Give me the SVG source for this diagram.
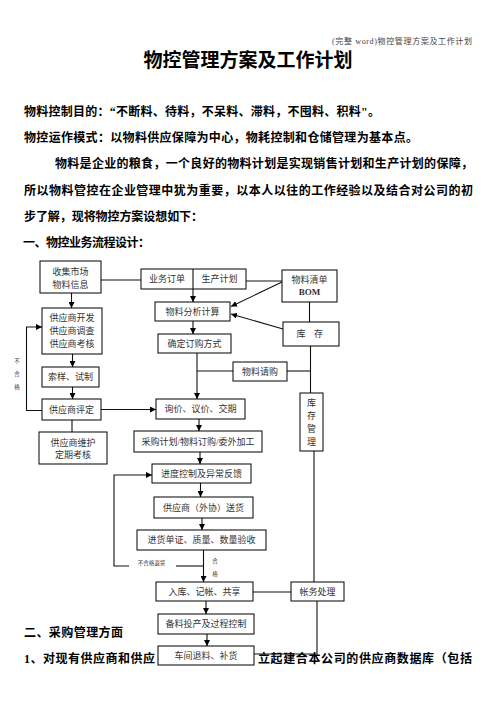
<svg xmlns="http://www.w3.org/2000/svg" width="496" height="702" viewBox="0 0 496 702">
<style>
.hd{font-family:"Liberation Serif","Noto Sans CJK SC",serif;font-size:8px;fill:#444}
.tt{font-family:"Liberation Serif","Noto Sans CJK SC",serif;font-size:19px;font-weight:bold;fill:#000}
.bd{font-family:"Liberation Serif","Noto Sans CJK SC",serif;font-size:12px;font-weight:bold;fill:#000}
.bx{fill:#fff;stroke:#000;stroke-width:1}
.nt{font-family:"Liberation Serif","Noto Sans CJK SC",serif;font-size:9px;fill:#333;text-anchor:middle;dominant-baseline:central}
.sm{font-family:"Liberation Serif","Noto Sans CJK SC",serif;font-size:5.5px;fill:#333;text-anchor:middle;dominant-baseline:central}
.ln{fill:none;stroke:#111;stroke-width:1.1}
.ar{fill:none;stroke:#111;stroke-width:1.1;marker-end:url(#ah)}
</style>
<defs>
<marker id="ah" markerUnits="userSpaceOnUse" markerWidth="7" markerHeight="6" refX="6" refY="3" orient="auto">
<path d="M0,0 L6,3 L0,6 Z" fill="#000"/>
</marker>
</defs>
<rect width="496" height="702" fill="#fff"/>
<text class="hd" x="332" y="44" textLength="140" lengthAdjust="spacing">(完整 word)物控管理方案及工作计划</text>
<text class="tt" x="248" y="67" text-anchor="middle">物控管理方案及工作计划</text>
<text class="bd" x="24" y="116" textLength="356" lengthAdjust="spacing">物料控制目的：“不断料、待料，不呆料、滞料，不囤料、积料"。</text>
<text class="bd" x="24" y="142" textLength="394" lengthAdjust="spacing">物控运作模式：以物料供应保障为中心，物耗控制和仓储管理为基本点。</text>
<text class="bd" x="55" y="168" textLength="418" lengthAdjust="spacing">物料是企业的粮食，一个良好的物料计划是实现销售计划和生产计划的保障，</text>
<text class="bd" x="24" y="195" textLength="449" lengthAdjust="spacing">所以物料管控在企业管理中犹为重要，以本人以往的工作经验以及结合对公司的初</text>
<text class="bd" x="24" y="221" textLength="179" lengthAdjust="spacing">步了解，现将物控方案设想如下：</text>
<text class="bd" x="23" y="247" textLength="127" lengthAdjust="spacing">一、物控业务流程设计：</text>
<text class="bd" x="24" y="637" textLength="99" lengthAdjust="spacing">二、采购管理方面</text>
<text class="bd" x="24" y="663" textLength="131" lengthAdjust="spacing">1、对现有供应商和供应</text>
<text class="bd" x="258" y="663" textLength="214" lengthAdjust="spacing">立起建合本公司的供应商数据库（包括</text>
<g id="connectors">
<path class="ln" d="M101,280 H141"/>
<path class="ar" d="M71.5,293 V308"/>
<path class="ar" d="M193,289 V302"/>
<path class="ln" d="M246,281 H282"/>
<path class="ar" d="M282,282 L231,306.5"/>
<path class="ar" d="M283,329 L231,314"/>
<path class="ln" d="M309.5,302 V322"/>
<path class="ar" d="M193,321 V334"/>
<path class="ar" d="M197,353 V399"/>
<path class="ln" d="M233,371 H197"/>
<path class="ln" d="M287,371 H310.5"/>
<path class="ln" d="M310.5,346 V393"/>
<path class="ln" d="M314,451 V582"/>
<path class="ln" d="M317,601 V654 H254"/>
<path class="ln" d="M253,592 H291"/>
<path class="ar" d="M72.5,354 V367"/>
<path class="ar" d="M72.5,387 V399"/>
<path class="ar" d="M42,410.5 H26.5 V327 H42"/>
<path class="ar" d="M101,409.5 H156"/>
<path class="ln" d="M72,420 V432"/>
<path class="ar" d="M199,419 V431"/>
<path class="ar" d="M200,452 V464"/>
<path class="ar" d="M200.5,483 V497"/>
<path class="ar" d="M202,518 V530"/>
<path class="ar" d="M203.5,550 V582"/>
<path class="ln" d="M203.5,566 H176"/>
<path class="ar" d="M129,566 H114 V475 H152"/>
<path class="ar" d="M206,601 V614"/>
<path class="ar" d="M207,634 V646"/>
</g>
<g id="lbl-buhege">
<text class="sm" x="17" y="361">不</text>
<text class="sm" x="17" y="374">合</text>
<text class="sm" x="17" y="387">格</text>
</g>
<g id="lbl-tuihuo"><text class="sm" x="151.5" y="563">不合格退货</text></g>
<g id="lbl-hege">
<text class="sm" x="215" y="561">合</text>
<text class="sm" x="215" y="573.5">格</text>
</g>
<g id="n-shouji"><rect class="bx" x="40" y="261" width="61" height="32"/><text class="nt" x="70.5" y="272">收集市场</text><text class="nt" x="70.5" y="284.5">物料信息</text></g>
<g id="n-dingdan"><rect class="bx" x="141" y="269" width="105" height="20"/><path class="ln" d="M193,269 V289"/><text class="nt" x="167" y="279">业务订单</text><text class="nt" x="219.5" y="279">生产计划</text></g>
<g id="n-bom"><rect class="bx" x="282" y="270" width="55" height="32"/><text class="nt" x="309.5" y="279.5">物料清单</text><text class="nt" x="309.5" y="292" font-weight="bold" font-size="8">BOM</text></g>
<g id="n-fenxi"><rect class="bx" x="155" y="302" width="75" height="19"/><text class="nt" x="192.5" y="311.5">物料分析计算</text></g>
<g id="n-kucun"><rect class="bx" x="283" y="322" width="56" height="24"/><text class="nt" x="301" y="334">库</text><text class="nt" x="318.5" y="334">存</text></g>
<g id="n-queding"><rect class="bx" x="158" y="334" width="73" height="19"/><text class="nt" x="194.5" y="343.5">确定订购方式</text></g>
<g id="n-kaifa"><rect class="bx" x="42" y="308" width="60" height="46"/><text class="nt" x="72" y="317.7">供应商开发</text><text class="nt" x="72" y="331">供应商调查</text><text class="nt" x="72" y="344.3">供应商考核</text></g>
<g id="n-suoyang"><rect class="bx" x="42" y="367" width="57" height="20"/><text class="nt" x="70.5" y="377">索样、试制</text></g>
<g id="n-qinggou"><rect class="bx" x="233" y="362" width="54" height="19"/><text class="nt" x="260" y="371.5">物料请购</text></g>
<g id="n-kcgl"><rect class="bx" x="300" y="393" width="23" height="58"/><text class="nt" x="311.5" y="403.3">库</text><text class="nt" x="311.5" y="416">存</text><text class="nt" x="311.5" y="428.7">管</text><text class="nt" x="311.5" y="441.5">理</text></g>
<g id="n-pingding"><rect class="bx" x="42" y="399" width="59" height="21"/><text class="nt" x="71.5" y="409.5">供应商评定</text></g>
<g id="n-xunjia"><rect class="bx" x="156" y="399" width="89" height="20"/><text class="nt" x="200.5" y="409">询价、议价、交期</text></g>
<g id="n-weihu"><rect class="bx" x="39" y="432" width="68" height="32"/><text class="nt" x="73" y="442.5">供应商维护</text><text class="nt" x="73" y="455">定期考核</text></g>
<g id="n-caigou"><rect class="bx" x="134" y="431" width="128" height="21"/><text class="nt" x="198" y="441.5">采购计划/物料订购/委外加工</text></g>
<g id="n-jindu"><rect class="bx" x="152" y="464" width="99" height="19"/><text class="nt" x="201.5" y="473.5">进度控制及异常反馈</text></g>
<g id="n-songhuo"><rect class="bx" x="154" y="497" width="99" height="21"/><text class="nt" x="203.5" y="507.5">供应商（外协）送货</text></g>
<g id="n-yanshou"><rect class="bx" x="137" y="530" width="129" height="20"/><text class="nt" x="201.5" y="540">进货单证、质量、数量验收</text></g>
<g id="n-ruku"><rect class="bx" x="156" y="582" width="97" height="19"/><text class="nt" x="204.5" y="591.5">入库、记帐、共享</text></g>
<g id="n-zhangwu"><rect class="bx" x="291" y="582" width="53" height="19"/><text class="nt" x="317.5" y="591.5">帐务处理</text></g>
<g id="n-beiliao"><rect class="bx" x="158" y="614" width="96" height="20"/><text class="nt" x="206" y="624">备料投产及过程控制</text></g>
<g id="n-chejian"><rect class="bx" x="158" y="646" width="96" height="19"/><text class="nt" x="206" y="655.5">车间退料、补货</text></g>
</svg>
